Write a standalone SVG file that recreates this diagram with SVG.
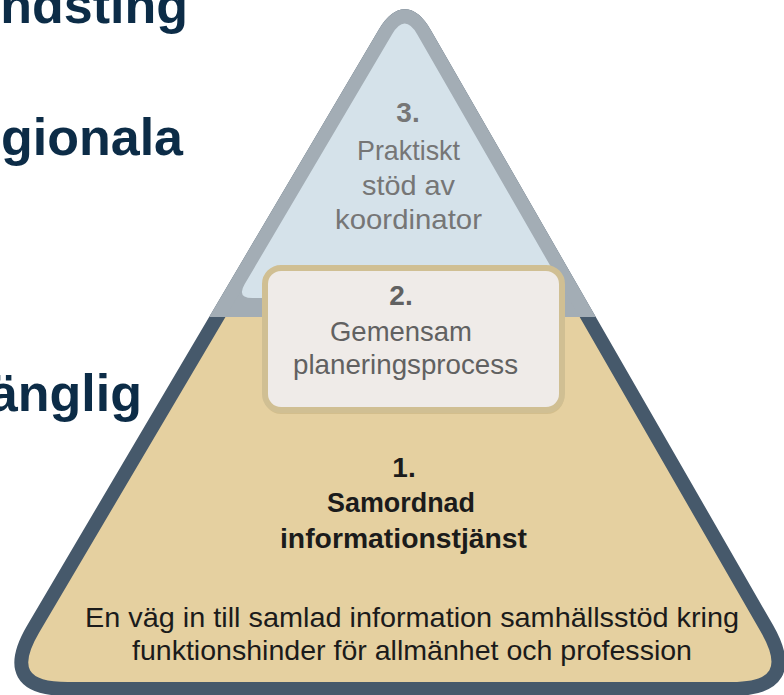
<svg xmlns="http://www.w3.org/2000/svg" width="784" height="695" viewBox="0 0 784 695">
<style>
.slide{font-family:"Liberation Sans",Arial,sans-serif;font-weight:bold;font-size:52px;fill:#0c2c47;text-anchor:end}
.lbl{font-family:"Liberation Sans Narrow","Liberation Sans",Arial,sans-serif;font-size:28px;text-anchor:middle}
.num{font-weight:bold}
.t3{fill:#767676}
.t2{fill:#616161}
.t1{fill:#1b1b1b}
.b{font-weight:bold}
</style>
<defs>
<clipPath id="topclip"><rect x="0" y="-20" width="784" height="337"/></clipPath>
<path id="outer" d="M384.6,33.5 Q404.9,-1 424.8,33.7 L766.8,628.3 Q801.7,689 731.7,689 L67.7,689 Q-2.3,689 33.3,628.7 Z"/>
</defs>
<rect width="784" height="695" fill="#ffffff"/>
<g id="slide-text">
<text class="slide" x="188" y="23">ndsting</text>
<text class="slide" x="183" y="155">gionala</text>
<text class="slide" x="142" y="411">änglig</text>
</g>
<g id="connectors"/>
<g id="tier1">
<use href="#outer" fill="#e5d0a0" stroke="#46596b" stroke-width="14" stroke-linejoin="round"/>
<text class="lbl t1 b" x="404" y="477">1.</text>
<text class="lbl t1 b" x="401" y="512" textLength="148" lengthAdjust="spacingAndGlyphs">Samordnad</text>
<text class="lbl t1 b" x="403.5" y="548" textLength="247" lengthAdjust="spacingAndGlyphs">informationstjänst</text>
<text class="lbl t1" x="412" y="627" textLength="654" lengthAdjust="spacingAndGlyphs">En väg in till samlad information samhällsstöd kring</text>
<text class="lbl t1" x="412" y="660" textLength="560" lengthAdjust="spacingAndGlyphs">funktionshinder för allmänhet och profession</text>
</g>
<g id="tier3">
<g clip-path="url(#topclip)">
<use href="#outer" fill="#a3adb5" stroke="#a3adb5" stroke-width="14" stroke-linejoin="round"/>
<path d="M392.1,34.3 Q404.8,12.8 417.3,34.5 L560.8,284.1 Q568.8,298 552.8,298 L252.5,298 Q236.5,298 244.6,284.2 Z" fill="#d5e2ea"/>
</g>
<text class="lbl t3 num" x="408" y="122">3.</text>
<text class="lbl t3" x="408.5" y="160" textLength="103" lengthAdjust="spacingAndGlyphs">Praktiskt</text>
<text class="lbl t3" x="408.5" y="195" textLength="93" lengthAdjust="spacingAndGlyphs">stöd av</text>
<text class="lbl t3" x="408.5" y="229" textLength="147" lengthAdjust="spacingAndGlyphs">koordinator</text>
</g>
<g id="tier2">
<rect x="264" y="271" width="300" height="143" rx="17" fill="#c4ae7c" opacity="0.55"/>
<rect x="265" y="268" width="297" height="142" rx="16" fill="#efebe8" stroke="#d0bf93" stroke-width="6"/>
<text class="lbl t2 num" x="401" y="305">2.</text>
<text class="lbl t2" x="401" y="341" textLength="142" lengthAdjust="spacingAndGlyphs">Gemensam</text>
<text class="lbl t2" x="405.5" y="374" textLength="225" lengthAdjust="spacingAndGlyphs">planeringsprocess</text>
</g>
</svg>
